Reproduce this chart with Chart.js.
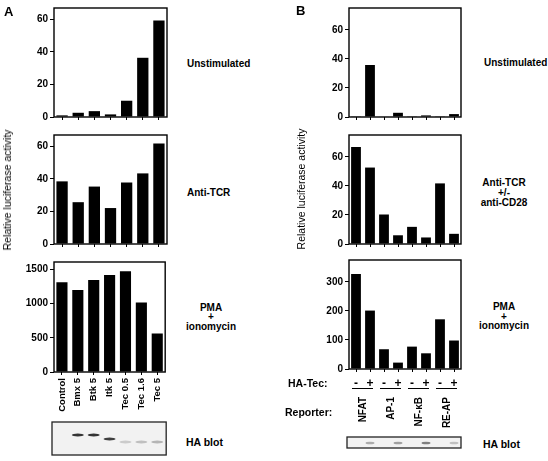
<!DOCTYPE html>
<html><head><meta charset="utf-8">
<script src="https://cdn.jsdelivr.net/npm/chart.js@4"></script>
<style>
body{margin:0;background:#fff;width:548px;height:461px;position:relative;overflow:hidden;font-family:"Liberation Sans",Arial,sans-serif;color:#000;}
canvas{position:absolute;}
.t{position:absolute;font-weight:bold;font-size:10px;white-space:nowrap;line-height:10px;transform:translateY(-50%);}
.c{text-align:center;transform:translate(-50%,-50%);}
.rot{position:absolute;transform:translate(-50%,-50%) rotate(-90deg);font-size:10.5px;white-space:nowrap;color:#000;}
.big{position:absolute;font-weight:bold;font-size:13px;}
</style></head><body>
<canvas id="a1"></canvas><canvas id="a2"></canvas><canvas id="a3"></canvas>
<canvas id="b1"></canvas><canvas id="b2"></canvas><canvas id="b3"></canvas>

<div class="big" style="left:4px;top:4px;">A</div>
<div class="big" style="left:296px;top:3px;">B</div>
<div class="rot" style="left:7px;top:190px;">Relative luciferase activity</div>
<div class="rot" style="left:301px;top:189px;">Relative luciferase activity</div>

<div class="t" style="left:187px;top:64px;">Unstimulated</div>
<div class="t" style="left:187px;top:193px;">Anti-TCR</div>
<div class="t c" style="left:211px;top:308px;">PMA</div>
<div class="t c" style="left:211px;top:317px;">+</div>
<div class="t c" style="left:211px;top:327px;">ionomycin</div>
<div class="t" style="left:186px;top:442px;font-size:10.5px;">HA blot</div>

<div class="t" style="left:484px;top:63px;">Unstimulated</div>
<div class="t c" style="left:504px;top:183px;">Anti-TCR</div>
<div class="t c" style="left:504px;top:193px;">+/-</div>
<div class="t c" style="left:504px;top:203px;">anti-CD28</div>
<div class="t c" style="left:504px;top:307px;">PMA</div>
<div class="t c" style="left:504px;top:317px;">+</div>
<div class="t c" style="left:504px;top:326px;">ionomycin</div>
<div class="t" style="left:288px;top:383px;font-size:10.5px;">HA-Tec:</div>
<div class="t" style="left:285px;top:412px;font-size:10.5px;">Reporter:</div>
<div class="t" style="left:483px;top:444px;font-size:10.5px;">HA blot</div>

<script>
// ---- data ----
const catsA = ['Control','Bmx 5','Btk 5','Itk 5','Tec 0.5','Tec 1.6','Tec 5'];
const unstimA = [1, 2.6, 3.6, 1.6, 10, 36.4, 59.3];
const tcrA = [38.5, 25.7, 35.3, 22.1, 37.8, 43.4, 61.8];
const pmaA = [1312, 1202, 1346, 1418, 1476, 1019, 562];
const blotA = [0, 0.85, 0.85, 0.8, 0.15, 0.2, 0.25];

const tecB = ['-','+','-','+','-','+','-','+'];
const reportersB = ['NFAT','AP-1','NF-\u03BAB','RE-AP'];
const unstimB = [0.5, 35.8, 0.3, 2.9, 0.5, 1.1, 0.5, 2];
const tcrB = [66.7, 52.6, 20.3, 6, 11.8, 4.5, 41.7, 7];
const pmaB = [327, 201, 68, 22, 77, 54, 171, 98];
const blotB = [0, 0.3, 0, 0.35, 0, 0.5, 0, 0.2];

const yTicksSmall = [0, 20, 40, 60];
const yTicksPmaA = [0, 500, 1000, 1500];
const yTicksPmaB = [0, 100, 200, 300];

// ---- drawing ----
Chart.defaults.font.family = '"Liberation Sans", Arial, sans-serif';
Chart.defaults.color = '#000';

const framePlugin = {id:'frame', afterDatasetsDraw(chart){
  const a = chart.chartArea, ctx = chart.ctx;
  ctx.save(); ctx.strokeStyle = '#000'; ctx.lineWidth = 1.4;
  ctx.strokeRect(a.left, a.top, a.right - a.left, a.bottom - a.top);
  ctx.restore();
}};

function blot(ctx, x0, x1, y0, y1){
  ctx.save();
  ctx.fillStyle = '#f2f2f2'; ctx.fillRect(x0, y0, x1 - x0, y1 - y0);
  ctx.strokeStyle = '#222'; ctx.lineWidth = 1.3; ctx.strokeRect(x0, y0, x1 - x0, y1 - y0);
  ctx.restore();
}
function band(ctx, x, y, w, h, intensity){
  if (!intensity) return;
  const g = Math.round(235 - 215 * intensity);
  ctx.save();
  ctx.fillStyle = `rgb(${g},${g},${g})`;
  ctx.beginPath();
  ctx.ellipse(x, y, w / 2, h / 2, 0, 0, Math.PI * 2);
  ctx.fill();
  ctx.restore();
}

const blotAPlugin = {id:'blotA', afterDraw(chart){
  const xs = chart.scales.x, ctx = chart.ctx, a = chart.chartArea;
  const shift = [0, 63, 63, 67, 70, 70, 70];
  blot(ctx, a.left - 2, a.right + 1, a.bottom + 50, a.bottom + 83);
  blotA.forEach((v, i) => band(ctx, xs.getPixelForValue(i), a.bottom + shift[i], 12, 3, v));
}};

const reporterPlugin = {id:'rep', afterDraw(chart){
  const xs = chart.scales.x, ctx = chart.ctx, a = chart.chartArea, b = a.bottom;
  ctx.save();
  ctx.strokeStyle = '#000'; ctx.lineWidth = 1; ctx.fillStyle = '#000';
  ctx.font = 'bold 10px "Liberation Sans", Arial, sans-serif';
  reportersB.forEach((r, i) => {
    const x1 = xs.getPixelForValue(2 * i), x2 = xs.getPixelForValue(2 * i + 1);
    ctx.beginPath(); ctx.moveTo(x1 - 4, b + 19.5); ctx.lineTo(x2 + 3, b + 19.5); ctx.stroke();
    ctx.save(); ctx.translate((x1 + x2) / 2, b + 28); ctx.rotate(-Math.PI / 2);
    ctx.textAlign = 'right'; ctx.textBaseline = 'middle'; ctx.fillText(r, 0, 0); ctx.restore();
  });
  ctx.restore();
  blot(ctx, a.left - 2, a.right, b + 68, b + 79);
  blotB.forEach((v, i) => band(ctx, xs.getPixelForValue(i), b + 74, 9, 2.5, v));
}};

function make(id, o){
  const cv = document.getElementById(id);
  cv.width = o.width; cv.height = o.height;
  cv.style.left = o.left + 'px'; cv.style.top = o.top + 'px';
  const yW = o.plotL - o.left;
  const xH = o.top + o.height - o.plotB;
  const tickVals = o.yTicks;
  new Chart(cv, {
    type: 'bar',
    data: {labels: o.labels, datasets: [{data: o.data, backgroundColor: '#000', barPercentage: 0.7, categoryPercentage: 1}]},
    options: {
      responsive: false, animation: false, devicePixelRatio: 1,
      layout: {padding: {left: 0, top: o.plotT - o.top, right: o.left + o.width - o.plotR, bottom: 0}},
      plugins: {legend: {display: false}, tooltip: {enabled: false}},
      scales: {
        x: {
          grid: {offset: false, drawOnChartArea: false, tickLength: 3, color: '#000', lineWidth: 1},
          border: {display: false},
          ticks: Object.assign({display: !!o.xTicks, autoSkip: false, color: '#000'}, o.xTicks || {}),
          afterFit(s){ s.height = xH; }
        },
        y: {
          min: 0, max: o.max,
          grid: {drawOnChartArea: false, tickLength: 4, color: '#000', lineWidth: 1},
          border: {display: false},
          afterBuildTicks(s){ s.ticks = tickVals.map(v => ({value: v})); },
          ticks: {font: {size: 10, weight: 'bold'}, color: '#000', padding: 2, callback: v => String(v)},
          afterFit(s){ s.width = yW; }
        }
      }
    },
    plugins: [framePlugin].concat(o.plugins || [])
  });
}

// Panel A
make('a1', {left:0, top:0, width:172, height:125, plotL:54, plotT:5, plotR:167, plotB:118, labels:catsA, data:unstimA, max:67, yTicks:yTicksSmall});
make('a2', {left:0, top:127, width:172, height:125, plotL:54, plotT:133, plotR:167, plotB:244, labels:catsA, data:tcrA, max:67, yTicks:yTicksSmall});
make('a3', {left:0, top:254, width:172, height:207, plotL:54, plotT:260, plotR:167, plotB:372, labels:catsA, data:pmaA, max:1610, yTicks:yTicksPmaA,
  xTicks:{minRotation:90, maxRotation:90, padding:3, font:{size:9.5, weight:'bold'}}, plugins:[blotAPlugin]});

// Panel B
make('b1', {left:305, top:0, width:160, height:125, plotL:349, plotT:6, plotR:461, plotB:118, labels:tecB, data:unstimB, max:75, yTicks:yTicksSmall});
make('b2', {left:305, top:127, width:160, height:125, plotL:349, plotT:132, plotR:461, plotB:244, labels:tecB, data:tcrB, max:75, yTicks:yTicksSmall});
make('b3', {left:305, top:252, width:160, height:209, plotL:349, plotT:258, plotR:461, plotB:369, labels:tecB, data:pmaB, max:375, yTicks:yTicksPmaB,
  xTicks:{maxRotation:0, minRotation:0, padding:4, font:{size:12, weight:'bold'}}, plugins:[reporterPlugin]});
</script>
</body></html>
